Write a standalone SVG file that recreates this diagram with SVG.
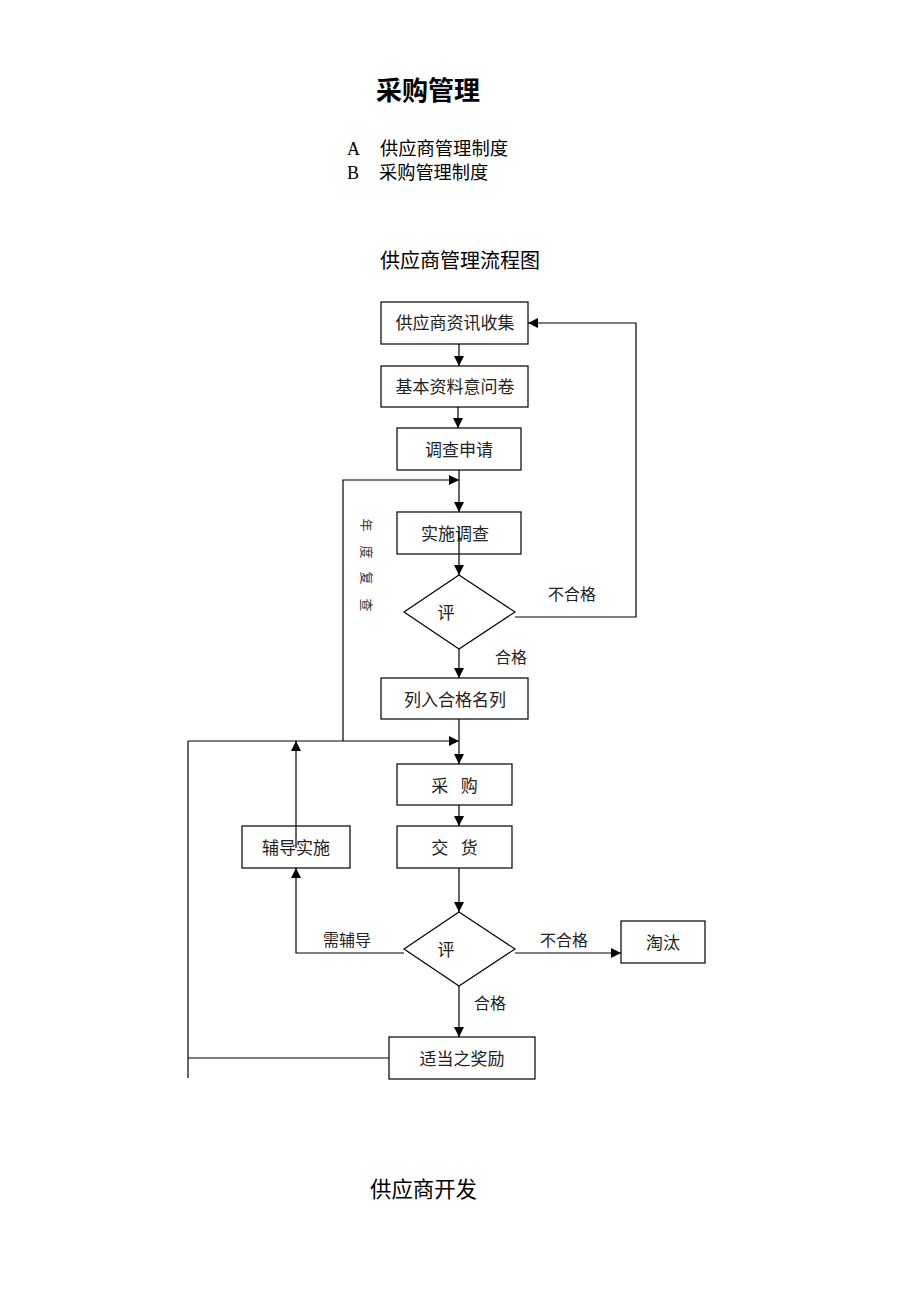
<svg xmlns="http://www.w3.org/2000/svg" width="920" height="1302" viewBox="0 0 920 1302">
<style>
.box{fill:#fff;stroke:#000;stroke-width:1.2}
.t{font-family:"Liberation Serif","Noto Sans CJK SC",serif;font-size:17px;fill:#222;text-anchor:middle}
.lbl{font-family:"Liberation Serif","Noto Sans CJK SC",serif;font-size:16px;fill:#222}
.ln{fill:none;stroke:#000;stroke-width:1.2}
.h{font-family:"Liberation Sans","Noto Sans CJK SC",sans-serif;fill:#000}
</style>
<defs>
<marker id="ah" viewBox="0 0 10 10" refX="10" refY="5" markerWidth="10" markerHeight="10" markerUnits="userSpaceOnUse" orient="auto">
<path d="M0,0 L10,5 L0,10 z" fill="#000"/>
</marker>
</defs>
<rect width="920" height="1302" fill="#fff"/>
<g id="header">
<text class="h" x="376" y="100" font-size="26" font-weight="bold">采购管理</text>
<text x="347" y="155" font-family="Liberation Serif,serif" font-size="18">A</text>
<text class="h" x="380" y="155" font-size="18.3">供应商管理制度</text>
<text x="347" y="179" font-family="Liberation Serif,serif" font-size="18">B</text>
<text class="h" x="379" y="179" font-size="18.2">采购管理制度</text>
<text class="h" x="380" y="268" font-size="20">供应商管理流程图</text>
<text class="h" x="370" y="1197" font-size="21.4">供应商开发</text>
</g>
<g id="connectors">
<line class="ln" x1="459" y1="344" x2="459" y2="366" marker-end="url(#ah)"/>
<line class="ln" x1="458" y1="407" x2="458" y2="428" marker-end="url(#ah)"/>
<line class="ln" x1="459" y1="470" x2="459" y2="512" marker-end="url(#ah)"/>
<polyline class="ln" points="343,741 343,480 459,480" marker-end="url(#ah)"/>
<line class="ln" x1="459" y1="554" x2="459" y2="575" marker-end="url(#ah)"/>
<polyline class="ln" points="515,617 636,617 636,323 528,323" marker-end="url(#ah)"/>
<line class="ln" x1="459" y1="649" x2="459" y2="678" marker-end="url(#ah)"/>
<line class="ln" x1="459" y1="719" x2="459" y2="764" marker-end="url(#ah)"/>
<line class="ln" x1="188" y1="741" x2="459" y2="741" marker-end="url(#ah)"/>
<line class="ln" x1="188" y1="741" x2="188" y2="1078"/>
<line class="ln" x1="188" y1="1058" x2="389" y2="1058"/>
<line class="ln" x1="459" y1="805" x2="459" y2="826" marker-end="url(#ah)"/>
<line class="ln" x1="459" y1="868" x2="459" y2="912" marker-end="url(#ah)"/>
<polyline class="ln" points="404,953 296,953 296,868" marker-end="url(#ah)"/>
<line class="ln" x1="296" y1="826" x2="296" y2="741" marker-end="url(#ah)"/>
<line class="ln" x1="515" y1="953" x2="621" y2="953" marker-end="url(#ah)"/>
<line class="ln" x1="459" y1="986" x2="459" y2="1037" marker-end="url(#ah)"/>
<text class="lbl" x="548" y="600">不合格</text>
<text class="lbl" x="495" y="663">合格</text>
<text class="lbl" x="323" y="946">需辅导</text>
<text class="lbl" x="540" y="946">不合格</text>
<text class="lbl" x="474" y="1009">合格</text>
<g font-family="Noto Sans CJK SC,sans-serif" font-size="13" fill="#333" text-anchor="middle">
<text transform="translate(366,525) rotate(90)" y="4">年</text>
<text transform="translate(366,552) rotate(90)" y="4">度</text>
<text transform="translate(366,578) rotate(90)" y="4">复</text>
<text transform="translate(366,605) rotate(90)" y="4">查</text>
</g>
</g>
<g id="n1"><rect class="box" x="381" y="302" width="147" height="42"/><text class="t" x="455" y="329">供应商资讯收集</text></g>
<g id="n2"><rect class="box" x="381" y="366" width="147" height="41"/><text class="t" x="455" y="393">基本资料意问卷</text></g>
<g id="n3"><rect class="box" x="397" y="428" width="124" height="42"/><text class="t" x="459" y="456">调查申请</text></g>
<g id="n4"><rect class="box" x="397" y="512" width="124" height="42"/><text class="t" x="455" y="540">实施调查</text><line class="ln" x1="459" y1="527" x2="459" y2="554"/></g>
<g id="d1"><polygon class="box" points="459,575 515,612 459,649 404,612"/><text class="t" x="446" y="619">评</text></g>
<g id="n5"><rect class="box" x="381" y="678" width="147" height="41"/><text class="t" x="455" y="706">列入合格名列</text></g>
<g id="n6"><rect class="box" x="397" y="764" width="115" height="41"/><text class="t" x="454.5" y="792" xml:space="preserve">采   购</text></g>
<g id="n7"><rect class="box" x="397" y="826" width="115" height="42"/><text class="t" x="454.5" y="854" xml:space="preserve">交   货</text></g>
<g id="n8"><rect class="box" x="242" y="826" width="108" height="42"/><text class="t" x="296" y="854">辅导实施</text><line class="ln" x1="296" y1="848" x2="296" y2="826"/></g>
<g id="d2"><polygon class="box" points="459,912 515,949 459,986 404,949"/><text class="t" x="446" y="956">评</text></g>
<g id="n9"><rect class="box" x="621" y="921" width="84" height="42"/><text class="t" x="663" y="949">淘汰</text></g>
<g id="n10"><rect class="box" x="389" y="1037" width="146" height="42"/><text class="t" x="462" y="1065">适当之奖励</text></g>
</svg>
